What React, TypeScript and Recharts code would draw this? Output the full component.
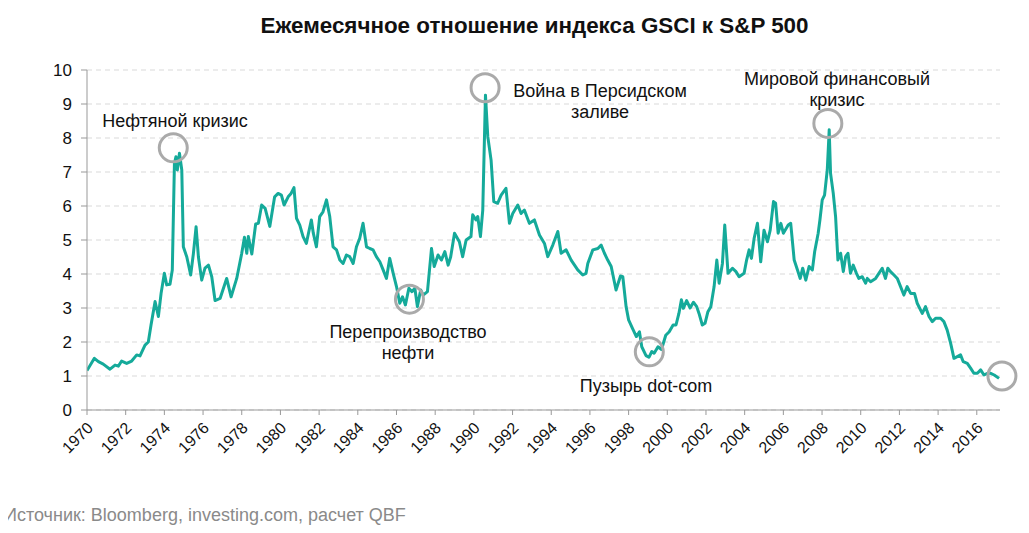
import React from "react";
import { LineChart, Line, XAxis, YAxis, CartesianGrid, ReferenceDot } from "recharts";

// ---- Data ----
const years: number[] = [
  1970.0, 1970.38, 1970.59, 1970.84, 1971.19, 1971.45, 1971.62, 1971.79, 1972.05, 1972.31,
  1972.57, 1972.74, 1973.0, 1973.17, 1973.31, 1973.52, 1973.69, 1973.83, 1974.0, 1974.12,
  1974.29, 1974.41, 1974.52, 1974.6, 1974.67, 1974.78, 1974.9, 1974.98, 1975.16, 1975.36,
  1975.5, 1975.64, 1975.76, 1975.93, 1976.1, 1976.28, 1976.45, 1976.62, 1976.88, 1977.22,
  1977.45, 1977.74, 1978.0, 1978.14, 1978.26, 1978.34, 1978.52, 1978.72, 1978.86, 1979.03,
  1979.21, 1979.45, 1979.7, 1979.88, 1980.05, 1980.19, 1980.4, 1980.55, 1980.7, 1980.83,
  1981.0, 1981.17, 1981.34, 1981.45, 1981.6, 1981.7, 1981.86, 1982.03, 1982.2, 1982.38,
  1982.55, 1982.72, 1982.9, 1983.07, 1983.24, 1983.41, 1983.58, 1983.76, 1983.93, 1984.1,
  1984.27, 1984.45, 1984.62, 1984.79, 1984.96, 1985.14, 1985.31, 1985.48, 1985.65, 1985.83,
  1986.0, 1986.17, 1986.31, 1986.46, 1986.64, 1986.8, 1986.95, 1987.08, 1987.25, 1987.38,
  1987.6, 1987.81, 1987.95, 1988.15, 1988.32, 1988.5, 1988.67, 1988.8, 1989.0, 1989.25,
  1989.42, 1989.6, 1989.85, 1989.94, 1990.11, 1990.2, 1990.34, 1990.46, 1990.6, 1990.72,
  1990.89, 1991.03, 1991.23, 1991.41, 1991.66, 1991.84, 1992.01, 1992.27, 1992.44, 1992.61,
  1992.87, 1993.13, 1993.39, 1993.65, 1993.82, 1994.08, 1994.34, 1994.51, 1994.77, 1995.03,
  1995.37, 1995.63, 1995.8, 1995.89, 1996.15, 1996.41, 1996.58, 1996.75, 1996.92, 1997.1,
  1997.35, 1997.58, 1997.7, 1997.87, 1998.0, 1998.2, 1998.4, 1998.56, 1998.68, 1998.9,
  1999.05, 1999.2, 1999.32, 1999.52, 1999.7, 1999.92, 2000.1, 2000.3, 2000.45, 2000.6,
  2000.73, 2000.83, 2001.0, 2001.18, 2001.35, 2001.52, 2001.64, 2001.81, 2001.95, 2002.1,
  2002.25, 2002.42, 2002.56, 2002.68, 2002.85, 2002.97, 2003.14, 2003.37, 2003.55, 2003.71,
  2003.97, 2004.1, 2004.23, 2004.35, 2004.49, 2004.66, 2004.83, 2005.0, 2005.18, 2005.32,
  2005.49, 2005.6, 2005.73, 2005.87, 2006.0, 2006.25, 2006.38, 2006.56, 2006.73, 2006.87,
  2007.0, 2007.16, 2007.33, 2007.5, 2007.62, 2007.8, 2007.89, 2008.01, 2008.13, 2008.27,
  2008.37, 2008.44, 2008.58, 2008.7, 2008.82, 2008.96, 2009.1, 2009.22, 2009.34, 2009.47,
  2009.61, 2009.78, 2009.9, 2010.08, 2010.25, 2010.34, 2010.51, 2010.77, 2010.94, 2011.11,
  2011.28, 2011.4, 2011.54, 2011.72, 2011.89, 2012.06, 2012.23, 2012.4, 2012.58, 2012.78,
  2012.92, 2013.18, 2013.35, 2013.53, 2013.7, 2013.87, 2014.13, 2014.3, 2014.47, 2014.65,
  2014.82, 2014.99, 2015.16, 2015.3, 2015.51, 2015.68, 2015.85, 2016.03, 2016.2, 2016.37,
  2016.55, 2016.72, 2016.9, 2017.15,
];

const ratio: number[] = [
  1.16, 1.52, 1.42, 1.35, 1.2, 1.32, 1.29, 1.44, 1.37, 1.44,
  1.62, 1.59, 1.91, 2.0, 2.5, 3.19, 2.75, 3.43, 4.02, 3.68,
  3.7, 4.12, 7.25, 7.45, 7.06, 7.55, 7.06, 4.8, 4.5, 3.97,
  4.6, 5.39, 4.5, 3.82, 4.17, 4.26, 3.92, 3.22, 3.28, 3.87,
  3.33, 3.87, 4.61, 5.08, 4.61, 5.1, 4.59, 5.47, 5.49, 6.03,
  5.93, 5.4, 6.27, 6.37, 6.32, 6.03, 6.27, 6.37, 6.54, 5.64,
  5.44, 5.1, 4.9, 5.2, 5.59, 5.2, 4.8, 5.69, 5.83, 6.18,
  5.69, 4.8, 4.71, 4.41, 4.31, 4.56, 4.51, 4.31, 4.8, 5.05,
  5.49, 4.8, 4.75, 4.71, 4.51, 4.36, 4.12, 3.87, 4.46, 4.02,
  3.63, 3.14, 3.33, 3.09, 3.58, 3.48, 3.58, 3.04, 3.53, 3.38,
  3.48, 4.75, 4.22, 4.56, 4.41, 4.66, 4.26, 4.5, 5.2, 4.95,
  4.51, 5.0, 5.1, 5.74, 5.59, 5.69, 5.1, 5.88, 9.26, 8.04,
  7.35, 6.13, 6.08, 6.32, 6.52, 5.49, 5.78, 6.03, 5.78, 5.88,
  5.49, 5.59, 5.15, 4.9, 4.51, 4.85, 5.25, 4.61, 4.71, 4.41,
  4.12, 3.97, 4.02, 4.31, 4.71, 4.75, 4.85, 4.61, 4.41, 4.22,
  3.53, 3.94, 3.92, 3.04, 2.65, 2.4, 2.16, 2.3, 1.86, 1.6,
  1.55, 1.72, 1.67, 1.86, 1.78, 2.2, 2.3, 2.5, 2.5, 2.84,
  3.24, 2.99, 3.22, 3.0, 3.17, 3.04, 2.84, 2.5, 2.55, 2.89,
  3.04, 3.63, 4.41, 3.73, 4.31, 5.44, 4.02, 4.17, 4.07, 3.92,
  4.02, 4.41, 4.71, 4.46, 5.05, 5.49, 4.36, 5.29, 4.95, 5.29,
  6.13, 6.08, 5.2, 5.49, 5.2, 5.44, 5.49, 4.41, 4.12, 3.87,
  4.17, 3.82, 4.22, 4.12, 4.66, 5.2, 5.59, 6.18, 6.32, 7.06,
  8.24, 6.96, 6.37, 5.69, 4.41, 4.61, 4.07, 4.51, 4.61, 4.02,
  4.26, 4.02, 3.87, 3.92, 3.73, 3.87, 3.77, 3.87, 4.02, 4.17,
  3.87, 4.17, 4.07, 3.97, 3.87, 3.63, 3.38, 3.63, 3.43, 3.43,
  3.14, 2.84, 3.04, 2.75, 2.6, 2.7, 2.7, 2.6, 2.35, 1.96,
  1.52, 1.57, 1.62, 1.42, 1.37, 1.23, 1.08, 1.08, 1.18, 1.03,
  1.08, 1.08, 1.03, 0.93,
];

const xTickYears: number[] = [
  1970, 1972, 1974, 1976, 1978, 1980, 1982, 1984, 1986, 1988, 1990, 1992,
  1994, 1996, 1998, 2000, 2002, 2004, 2006, 2008, 2010, 2012, 2014, 2016,
];
const yTicks: number[] = [0, 1, 2, 3, 4, 5, 6, 7, 8, 9, 10];

const circleYears: number[] = [1974.46, 1986.67, 1990.58, 1999.07, 2008.3, 2017.3];
const circleValues: number[] = [7.71, 3.26, 9.48, 1.71, 8.43, 1.0];

const titleText = "Ежемесячное отношение индекса GSCI к S&P 500";
const sourceText = "Источник: Bloomberg, investing.com, расчет QBF";
const annotationLines: string[][] = [
  ["Нефтяной кризис"],
  ["Война в Персидском", "заливе"],
  ["Мировой финансовый", "кризис"],
  ["Перепроизводство", "нефти"],
  ["Пузырь dot-com"],
];

// ---- Layout ----
const W = 1013;
const H = 517;
const FONT = "'Liberation Sans', Arial, Helvetica, sans-serif";
const LINE_COLOR = "#15aa9a";
// annotation anchor centers (wrapper coordinates)
const annotationPos = [
  { cx: 167, cy: 114 },
  { cx: 592, cy: 84 },
  { cx: 829, cy: 72 },
  { cx: 400, cy: 325 },
  { cx: 638, cy: 379 },
];

const data = years.map((y, i) => ({ year: y, value: ratio[i] }));

const XTick = (props: any) => {
  const { x, y, payload } = props;
  return (
    <g transform={`translate(${x + 3},${y + 8})`}>
      <text
        transform="rotate(-45)"
        textAnchor="end"
        dy="0.35em"
        fontSize={16}
        fill="#111"
        fontFamily={FONT}
      >
        {payload.value}
      </text>
    </g>
  );
};

export default function App() {
  const lineH = 21;
  return (
    <div style={{ position: "relative", width: W, height: H, fontFamily: FONT }}>
      <LineChart
        width={W}
        height={H}
        data={data}
        margin={{ top: 62, right: 21, bottom: 55, left: 0 }}
      >
        <CartesianGrid vertical={false} stroke="#d9d9d9" strokeDasharray="5 4" />
        <XAxis
          dataKey="year"
          type="number"
          domain={[1970, 2017.2]}
          ticks={xTickYears}
          allowDataOverflow
          interval={0}
          height={60}
          tickSize={5}
          tickMargin={2}
          stroke="#999"
          tick={<XTick />}
        />
        <YAxis
          domain={[0, 10]}
          ticks={yTicks}
          width={79}
          tickSize={6}
          tickMargin={9}
          stroke="#999"
          tick={{ fill: "#111", fontSize: 17, fontFamily: FONT }}
          interval={0}
        />
        <Line
          type="linear"
          dataKey="value"
          stroke={LINE_COLOR}
          strokeWidth={3}
          dot={false}
          strokeLinejoin="round"
          isAnimationActive={false}
        />
        {circleYears.map((cy, i) => (
          <ReferenceDot
            key={i}
            x={cy}
            y={circleValues[i]}
            r={14}
            fill="none"
            stroke="#aaaaaa"
            strokeWidth={3}
            ifOverflow="visible"
          />
        ))}
      </LineChart>
      <div
        style={{
          position: "absolute",
          left: 20,
          width: W,
          top: 5,
          textAlign: "center",
          fontWeight: "bold",
          fontSize: 22.4,
          lineHeight: "26px",
          color: "#111",
          whiteSpace: "nowrap",
          zIndex: 2,
        }}
      >
        {titleText}
      </div>
      {annotationLines.map((lines, i) => {
        const p = annotationPos[i];
        return (
          <div
            key={i}
            style={{
              position: "absolute",
              left: p.cx - 150,
              width: 300,
              top: p.cy - lineH / 2 - 1,
              textAlign: "center",
              fontSize: 18,
              lineHeight: `${lineH}px`,
              color: "#111",
              whiteSpace: "nowrap",
              zIndex: 2,
            }}
          >
            {lines.map((t, j) => (
              <div key={j}>{t}</div>
            ))}
          </div>
        );
      })}
      <div
        style={{
          position: "absolute",
          left: -4,
          top: 496,
          fontSize: 18,
          lineHeight: "22px",
          color: "#8a8a8a",
          whiteSpace: "nowrap",
          zIndex: 2,
        }}
      >
        {sourceText}
      </div>
    </div>
  );
}
